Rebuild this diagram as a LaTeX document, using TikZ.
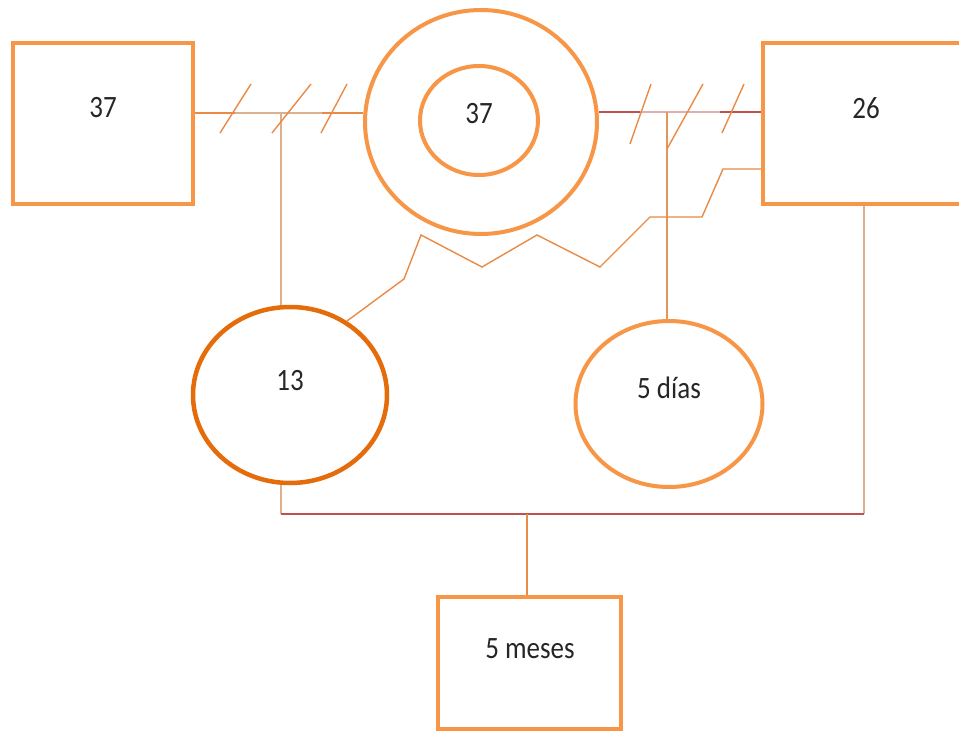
\documentclass[tikz,border=0pt]{standalone}
\usepackage{fontspec}
\setmainfont{Carlito}
\usetikzlibrary{shapes.geometric}
\definecolor{oL}{HTML}{F79646}
\definecolor{oD}{HTML}{E46C0A}
\definecolor{oM}{HTML}{E98A45}
\definecolor{tanc}{HTML}{DDB08E}
\definecolor{redl}{HTML}{C0504D}
\definecolor{pinkl}{HTML}{DDB0B0}
\newcommand{\lbltxt}[1]{\scalebox{1}[1.15]{#1}}
\begin{document}
\begin{tikzpicture}[x=1pt,y=-1pt,
  boxn/.style={draw=oL, line width=4pt, rectangle, inner sep=0pt},
  elln/.style={draw=oL, line width=4pt, ellipse, inner sep=0pt},
  lbl/.style={font=\fontsize{27}{32}\selectfont, text=black!85, inner sep=0pt},
  oline/.style={draw=oM, line width=1.6pt},
  tline/.style={draw=tanc, line width=1.8pt},
  rline/.style={draw=redl, line width=1.4pt},
  slash/.style={draw=oM, line width=1.4pt}]
\clip (0,0) rectangle (959,733);
\fill[white] (0,0) rectangle (959,733);
% nodes
\node[boxn, minimum width=180pt, minimum height=161pt] (b1) at (103,123.5) {};
\node[boxn, minimum width=212pt, minimum height=161pt] (b2) at (869,123.5) {};
\node[boxn, minimum width=183pt, minimum height=132pt] (b3) at (529.5,663) {};
\node[elln, minimum width=232pt, minimum height=224pt] (c1) at (481,122) {};
\node[elln, minimum width=118pt, minimum height=109pt] (c2) at (479,120.5) {};
\node[elln, draw=oD, line width=4.5pt, minimum width=194pt, minimum height=176pt] (e1) at (290,395) {};
\node[elln, minimum width=187pt, minimum height=166pt] (e2) at (669,404) {};
% labels
\node[lbl] (t1) at (103,108) {\lbltxt{37}};
\node[lbl] (t2) at (479,114) {\lbltxt{37}};
\node[lbl] (t3) at (866,108) {\lbltxt{26}};
\node[lbl] (t4) at (290,381) {\lbltxt{13}};
\node[lbl] (t5) at (669,388) {\lbltxt{5 días}};
\node[lbl] (t6) at (530,649) {\lbltxt{5 meses}};
% coordinates
\coordinate (jL) at (281,113);
\coordinate (jR) at (667,112);
\coordinate (bl) at (281,514);
\coordinate (br) at (864,514);
\coordinate (bm) at (527,514);
\coordinate (z0) at (347,321);
% left connector
\draw[oline] (b1.east |- jL) -- (c1.west |- jL);
\draw[tline] (235,113) -- (322,113);
\draw[tline] (jL) -- (jL |- e1.north);
\draw[slash] (220,133) -- (251,84);
\draw[slash] (272,133) -- (311,84);
\draw[slash] (321,133) -- (347,84);
% right connector
\draw[rline] (c1.east |- jR) -- (b2.west |- jR);
\draw[draw=pinkl, line width=1.6pt] (640,112) -- (720,112);
\draw[draw=oM!70!tanc, line width=1.6pt] (jR) -- (jR |- e2.north);
\draw[slash] (630,144) -- (651,84);
\draw[slash] (667,149) -- (703,84);
\draw[slash] (722,133) -- (744,84);
% zigzag
\draw[oline, line width=1.4pt, line join=miter] (b2.west |- 0,169) -- (723,169) -- (702,217) -- (650,217) -- (600,267) -- (537,235) -- (482,267) -- (421,235) -- (404,279) -- (z0);
% bottom connectors
\draw[tline] (bl |- e1.south) -- (bl);
\draw[tline] (br) -- (br |- b2.south);
\draw[rline] (bl) -- (br);
\draw[oline] (bm) -- (bm |- b3.north);
\end{tikzpicture}
\end{document}
